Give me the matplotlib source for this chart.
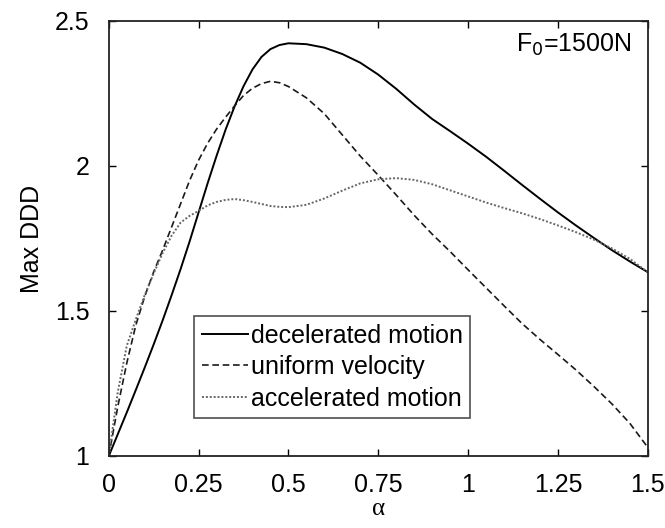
import matplotlib
matplotlib.use('Agg')
import matplotlib.pyplot as plt
import numpy as np

plt.rcParams['font.family'] = ['Liberation Sans', 'DejaVu Sans']

# values
alpha = [0, 0.025, 0.05, 0.075, 0.1, 0.125, 0.15, 0.175, 0.2, 0.225, 0.25, 0.275, 0.3,
         0.325, 0.35, 0.375, 0.4, 0.425, 0.45, 0.475, 0.5, 0.55, 0.6, 0.65, 0.7, 0.75,
         0.8, 0.85, 0.9, 0.95, 1.0, 1.05, 1.1, 1.15, 1.2, 1.25, 1.3, 1.35, 1.4, 1.45, 1.5]
decel = [1.0, 1.075, 1.15, 1.227, 1.305, 1.385, 1.468, 1.555, 1.645, 1.74, 1.84, 1.94, 2.035,
         2.125, 2.205, 2.275, 2.333, 2.376, 2.403, 2.417, 2.423, 2.42, 2.408, 2.386, 2.356, 2.315,
         2.266, 2.212, 2.162, 2.12, 2.077, 2.032, 1.984, 1.935, 1.887, 1.84, 1.795, 1.752, 1.71, 1.671, 1.634]
uniform = [1.0, 1.17, 1.32, 1.45, 1.55, 1.635, 1.71, 1.79, 1.87, 1.95, 2.02, 2.078, 2.127,
           2.168, 2.207, 2.243, 2.268, 2.284, 2.292, 2.287, 2.274, 2.235, 2.18, 2.107, 2.034, 1.968,
           1.9, 1.83, 1.765, 1.705, 1.642, 1.58, 1.518, 1.457, 1.402, 1.35, 1.297, 1.24, 1.18, 1.113, 1.03]
accel = [1.0, 1.22, 1.38, 1.47, 1.555, 1.63, 1.70, 1.76, 1.805, 1.828, 1.845, 1.864, 1.876,
         1.883, 1.886, 1.882, 1.876, 1.869, 1.862, 1.859, 1.858, 1.866, 1.888, 1.915, 1.94, 1.954,
         1.958, 1.952, 1.937, 1.916, 1.895, 1.874, 1.855, 1.837, 1.817, 1.795, 1.772, 1.746, 1.716, 1.68, 1.634]

xticks = [0, 0.25, 0.5, 0.75, 1, 1.25, 1.5]
xticklabels = ['0', '0.25', '0.5', '0.75', '1', '1.25', '1.5']
yticks = [1, 1.5, 2, 2.5]
yticklabels = ['1', '1.5', '2', '2.5']

fig = plt.figure(figsize=(6.65, 5.28), dpi=100)
ax = fig.add_axes([0.1636, 0.1364, 0.8104, 0.8239])

ax.plot(alpha, decel, '-', color='black', lw=1.4, label='decelerated motion')
ax.plot(alpha, uniform, '--', color='#1a1a1a', lw=1.2, dashes=(4, 2.2), label='uniform velocity')
ax.plot(alpha, accel, ':', color='#666666', lw=1.4, dashes=(1, 1), label='accelerated motion')

ax.set_xlim(0, 1.5)
ax.set_ylim(1, 2.5)
ax.set_xticks(xticks)
ax.set_xticklabels(xticklabels)
ax.set_yticks(yticks)
ax.set_yticklabels(yticklabels)
ax.tick_params(direction='in', top=True, right=True, labelsize=18, length=5, width=1)
ax.tick_params(axis='x', pad=12)
ax.tick_params(axis='y', pad=14)
for s in ax.spines.values():
    s.set_linewidth(1.3)
    s.set_color('#222222')

ax.set_xlabel('α', fontsize=18, family='Liberation Serif', labelpad=1)
ax.set_ylabel('Max DDD', fontsize=18, labelpad=8)

ax.text(0.97, 0.975, r'F$_0$=1500N', transform=ax.transAxes, ha='right', va='top', fontsize=18)

leg = ax.legend(loc='lower left', bbox_to_anchor=(0.159, 0.087), fontsize=18, frameon=True,
                fancybox=False, edgecolor='#222222', handlelength=1.85, handletextpad=0.1,
                borderpad=0.3, labelspacing=0.3, borderaxespad=0)
leg.get_frame().set_linewidth(1.2)

fig.savefig('out.png', dpi=100)
